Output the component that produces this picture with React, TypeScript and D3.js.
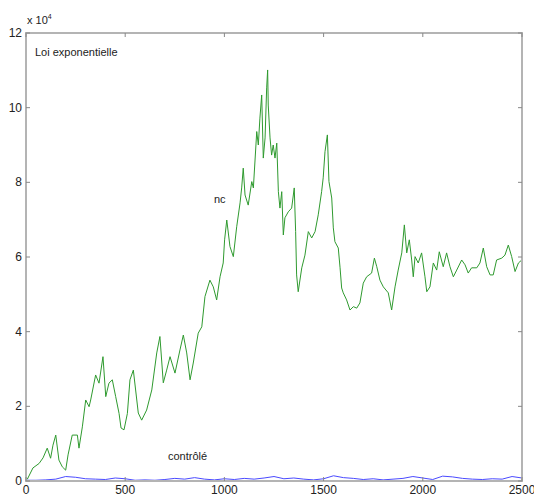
import React from "react";
import * as d3 from "d3";

const ncSteps = [0,7,35,66,86,107,124,136,150,166,183,200,212,233,259,267,284,301,318,326,351,368,388,402,418,435,452,469,479,494,511,524,541,566,583,608,634,659,675,692,709,726,751,776,793,810,827,843,868,886,902,927,944,961,978,994,1001,1012,1028,1045,1062,1079,1087,1095,1104,1120,1138,1146,1163,1171,1179,1188,1196,1205,1213,1218,1221,1230,1238,1246,1255,1264,1272,1280,1289,1297,1305,1322,1339,1352,1359,1364,1372,1390,1406,1423,1440,1457,1473,1490,1498,1507,1519,1527,1541,1549,1557,1574,1583,1591,1599,1616,1633,1650,1667,1683,1700,1717,1742,1756,1768,1784,1801,1826,1843,1860,1876,1894,1907,1919,1932,1944,1952,1961,1977,1994,2011,2020,2036,2053,2070,2083,2103,2120,2137,2154,2171,2196,2213,2229,2246,2272,2288,2305,2322,2339,2355,2372,2398,2414,2431,2448,2465,2482,2499];
const ncValues = [0.11,0.05,0.35,0.47,0.62,0.88,0.61,0.96,1.23,0.56,0.38,0.29,0.70,1.23,1.23,0.88,1.45,2.17,1.99,2.17,2.84,2.62,3.33,2.26,2.62,2.71,2.26,1.81,1.42,1.37,1.81,2.71,2.97,1.82,1.63,1.90,2.44,3.43,3.87,2.63,2.97,3.33,2.89,3.51,3.91,3.43,2.71,3.16,3.96,4.13,4.94,5.38,5.20,4.85,5.47,5.84,6.46,6.99,6.28,6.01,6.81,7.45,7.85,8.38,7.66,7.39,8.02,7.85,9.36,9.00,9.72,10.34,8.65,9.19,10.53,11.01,10.07,9.19,8.73,9.00,8.65,9.05,7.75,7.31,7.75,6.59,7.05,7.21,7.31,7.85,6.68,5.52,5.07,5.71,6.05,6.68,6.51,6.68,7.13,7.75,8.12,8.82,9.27,8.02,7.58,6.78,6.41,6.24,5.71,5.17,5.04,4.85,4.58,4.67,4.63,4.77,5.30,5.47,5.57,5.97,5.74,5.38,5.20,5.04,4.58,5.20,5.65,6.11,6.86,6.11,6.46,5.92,5.47,6.01,5.84,6.11,5.47,5.07,5.20,5.84,5.65,6.14,5.74,6.11,5.74,5.47,5.65,5.92,5.79,5.57,5.71,5.71,5.84,6.24,5.74,5.52,5.52,5.92,5.97,6.05,6.32,6.01,5.61,5.84,5.92];

const ctrlSteps = [0,50,100,150,200,250,300,350,400,450,500,550,600,650,700,750,800,850,900,950,1000,1050,1100,1150,1200,1250,1300,1350,1400,1450,1500,1550,1600,1650,1700,1750,1800,1850,1900,1950,2000,2050,2100,2150,2200,2250,2300,2350,2400,2450,2500];
const ctrlValues = [0.02,0.02,0.03,0.05,0.12,0.10,0.06,0.05,0.04,0.08,0.06,0.02,0.03,0.02,0.04,0.07,0.05,0.09,0.05,0.03,0.06,0.04,0.07,0.05,0.08,0.12,0.06,0.08,0.05,0.03,0.06,0.14,0.09,0.07,0.04,0.06,0.03,0.05,0.07,0.12,0.08,0.04,0.13,0.11,0.07,0.05,0.04,0.06,0.05,0.12,0.08];

const xTicks = [0, 500, 1000, 1500, 2000, 2500];
const yTicks = [0, 2, 4, 6, 8, 10, 12];

const labels = { title: "Loi exponentielle", nc: "nc", ctrl: "contrôlé" };

export default function App() {
  const W = 534, H = 497;
  const left = 26, right = 522, top = 33, bottom = 481;
  const x = d3.scaleLinear().domain([0, 2500]).range([left, right]);
  const y = d3.scaleLinear().domain([0, 12]).range([bottom, top]);
  const line = d3.line<number>().x((_, i) => 0).y(() => 0);
  const mk = (steps: number[], vals: number[]) =>
    d3.line<number>().x((_, i) => x(steps[i])).y((v) => y(v))(vals) || "";
  void line;
  const font = "'Liberation Sans', Arial, sans-serif";
  return (
    <svg width={W} height={H} style={{ position: "absolute", left: 0, top: 0, background: "#fff" }}>
      <rect x={0} y={0} width={W} height={H} fill="#fff" />
      <path d={mk(ncSteps, ncValues)} fill="none" stroke="#2f9a2f" strokeWidth={1} strokeLinejoin="round" />
      <path d={mk(ctrlSteps, ctrlValues)} fill="none" stroke="#4a4aff" strokeWidth={1} />
      <rect x={left} y={top} width={right - left} height={bottom - top} fill="none" stroke="#b4b4b4" strokeWidth={2} />
      {xTicks.map((t) => (
        <g key={"x" + t}>
          <line x1={x(t)} x2={x(t)} y1={bottom} y2={bottom - 4} stroke="#888" />
          <line x1={x(t)} x2={x(t)} y1={top} y2={top + 4} stroke="#888" />
          <text x={x(t)} y={494} fontSize={12} fontFamily={font} fill="#222" textAnchor="middle">{t}</text>
        </g>
      ))}
      {yTicks.map((t) => (
        <g key={"y" + t}>
          <line x1={left} x2={left + 4} y1={y(t)} y2={y(t)} stroke="#888" />
          <line x1={right} x2={right - 4} y1={y(t)} y2={y(t)} stroke="#888" />
          <text x={22} y={y(t) + 4} fontSize={12} fontFamily={font} fill="#222" textAnchor="end">{t}</text>
        </g>
      ))}
      <text x={27} y={24} fontSize={11} fontFamily={font} fill="#222">
        x 10<tspan dy={-5} fontSize={7}>4</tspan>
      </text>
      <text x={35} y={56} fontSize={11} fontFamily={font} fill="#222">{labels.title}</text>
      <text x={214} y={203} fontSize={11} fontFamily={font} fill="#222">{labels.nc}</text>
      <text x={168} y={460} fontSize={11} fontFamily={font} fill="#222">{labels.ctrl}</text>
    </svg>
  );
}
